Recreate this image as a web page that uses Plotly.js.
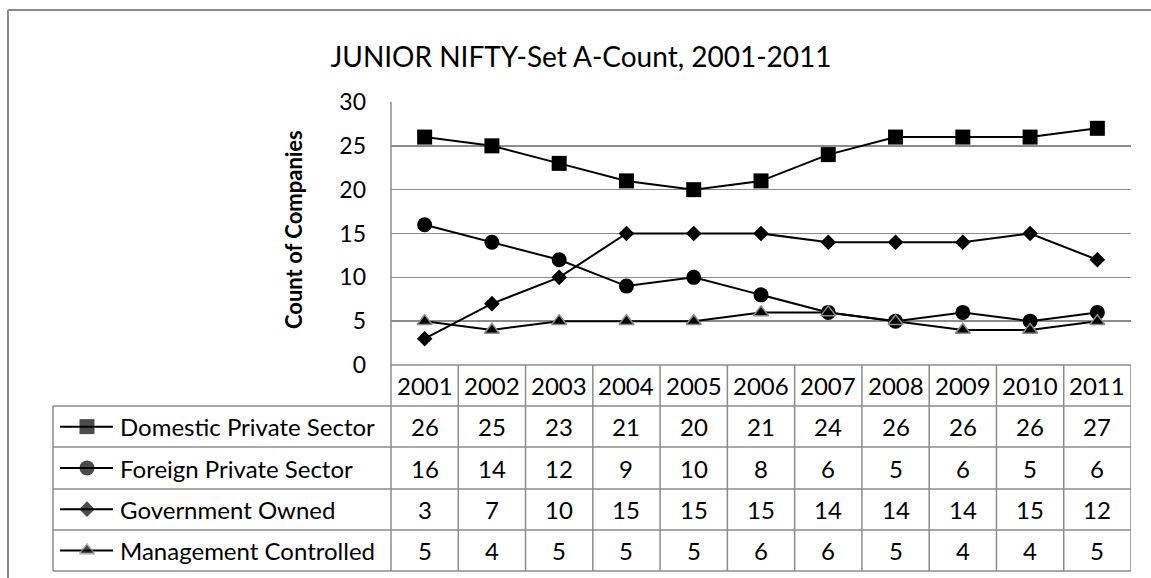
<!DOCTYPE html>
<html>
<head>
<meta charset="utf-8">
<script src="https://cdn.plot.ly/plotly-3.0.1.min.js"></script>
<style>html,body{margin:0;padding:0;background:#fff}#chart{width:1151px;height:578px}</style>
</head>
<body>
<div id="chart"></div>
<script>
const years = ["2001","2002","2003","2004","2005","2006","2007","2008","2009","2010","2011"];
const seriesNames = ["Domestic Private Sector","Foreign Private Sector","Government Owned","Management Controlled"];
const domestic = [26,25,23,21,20,21,24,26,26,26,27];
const foreign = [16,14,12,9,10,8,6,5,6,5,6];
const government = [3,7,10,15,15,15,14,14,14,15,12];
const management = [5,4,5,5,5,6,6,5,4,4,5];
const chartTitle = "JUNIOR NIFTY-Set A-Count, 2001-2011";
const yTitle = "Count of Companies";

const W = 1151, H = 578;
const X = p => p / W;
const Y = p => 1 - p / H;
const FONT = "Lato, 'Liberation Sans', sans-serif";
const GRID = "#8c8c8c";

const values = [domestic, foreign, government, management];
const markers = [
  {symbol: "square", size: 15, color: "#000", line: {width: 0}},
  {symbol: "circle", size: 15, color: "#000", line: {width: 0}},
  {symbol: "diamond", size: 12, color: "#000", line: {width: 0}},
  {symbol: "triangle-up", size: 13, color: "#000", line: {width: 1.5, color: "#8a8a8a"}}
];

const traces = [];
values.forEach((v, i) => {
  traces.push({
    type: "scatter", mode: "lines+markers", x: years, y: v, name: seriesNames[i],
    line: {color: "#000", width: 2}, marker: markers[i], xaxis: "x", yaxis: "y", cliponaxis: false
  });
});
// legend keys inside the data table
values.forEach((v, i) => {
  traces.push({
    type: "scatter", mode: "lines+markers", x: [60, 87, 113], y: [seriesNames[i], seriesNames[i], seriesNames[i]],
    line: {color: "#000", width: 2},
    marker: Object.assign({}, markers[i], {size: [0, markers[i].size, 0]}),
    xaxis: "x2", yaxis: "y2", hoverinfo: "skip"
  });
});

const rowLines = [365, 406, 447, 489, 530, 571];
const shapes = [];
shapes.push({type: "line", xref: "paper", yref: "paper", x0: X(8), x1: X(8), y0: Y(10), y1: Y(578), line: {color: "#8a8a8a", width: 2}});
shapes.push({type: "line", xref: "paper", yref: "paper", x0: X(8), x1: X(1151), y0: Y(10), y1: Y(10), line: {color: "#8a8a8a", width: 2}});
shapes.push({type: "line", xref: "paper", yref: "paper", x0: X(391), x1: X(391), y0: Y(102), y1: Y(571), line: {color: GRID, width: 1.5}});
shapes.push({type: "line", xref: "paper", yref: "paper", x0: X(53), x1: X(53), y0: Y(406), y1: Y(571), line: {color: GRID, width: 1.5}});
rowLines.forEach((r, k) => {
  shapes.push({type: "line", xref: "paper", yref: "paper", x0: X(k === 0 ? 391 : 53), x1: X(1131), y0: Y(r), y1: Y(r), line: {color: GRID, width: 1.5}});
});
years.forEach((yr, i) => {
  shapes.push({type: "line", xref: "x", yref: "paper", x0: i + 0.5, x1: i + 0.5, y0: Y(365), y1: Y(571), line: {color: GRID, width: 1.5}});
});

const TF = {family: FONT, size: 24, color: "#000"};
const annotations = [];
annotations.push({text: yTitle, xref: "paper", yref: "paper", x: X(293), y: Y(230), xanchor: "center", yanchor: "middle", textangle: -90, showarrow: false,
  font: {family: FONT, size: 22, color: "#000", weight: "bold"}});
years.forEach((yr, i) => {
  annotations.push({text: yr, xref: "x", yref: "paper", x: i, y: Y(385), xanchor: "center", yanchor: "middle", showarrow: false, font: TF});
  values.forEach((v, s) => {
    const mid = (rowLines[s + 1] + rowLines[s + 2]) / 2;
    annotations.push({text: String(v[i]), xref: "x", yref: "paper", x: i, y: Y(mid), xanchor: "center", yanchor: "middle", showarrow: false, font: TF});
  });
});
seriesNames.forEach((n, s) => {
  const mid = (rowLines[s + 1] + rowLines[s + 2]) / 2;
  annotations.push({text: n, xref: "paper", yref: "paper", x: X(118), xanchor: "left", y: Y(mid), yanchor: "middle", showarrow: false, font: TF});
});

const layout = {
  width: W, height: H, margin: {l: 0, r: 0, t: 0, b: 0},
  paper_bgcolor: "#fff", plot_bgcolor: "#fff", showlegend: false,
  title: {text: chartTitle, x: X(581), xanchor: "center", y: Y(57), yanchor: "middle", font: {family: FONT, size: 28, color: "#000"}},
  xaxis: {type: "category", domain: [X(391), X(1131)], range: [-0.5, 10.5], showticklabels: false, showgrid: false, zeroline: false, showline: false, ticks: "", fixedrange: true},
  yaxis: {domain: [Y(365), Y(102)], range: [0, 30], dtick: 5, tick0: 0, showgrid: true, gridcolor: GRID, gridwidth: 1.5, zeroline: false, showline: false,
    ticks: "", ticklabelstandoff: 24, tickfont: {family: FONT, size: 23, color: "#000"}},
  xaxis2: {domain: [0, 1], range: [0, W], visible: false, anchor: "y2"},
  yaxis2: {domain: [Y(571), Y(406)], type: "category", categoryarray: seriesNames, range: [3.5, -0.5], visible: false, anchor: "x2"},
  shapes: shapes, annotations: annotations
};

Plotly.newPlot("chart", traces, layout, {displayModeBar: false, staticPlot: true});
</script>
</body>
</html>
